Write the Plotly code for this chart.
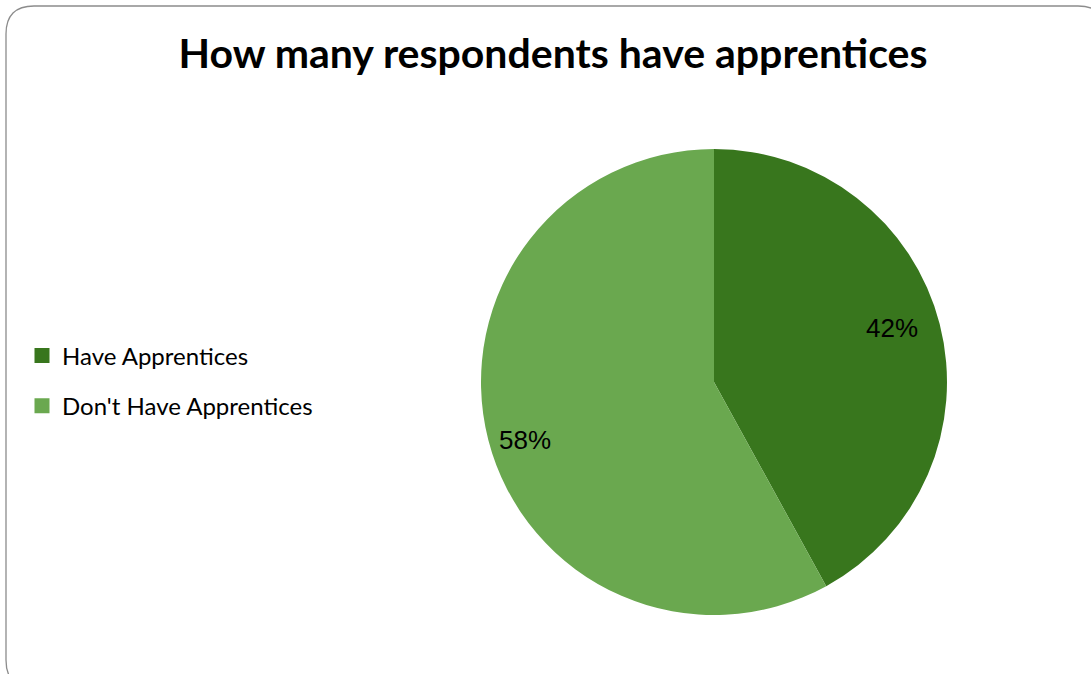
import math
import plotly.graph_objects as go

# Survey result
labels = ["Have Apprentices", "Don't Have Apprentices"]
shares = [42, 58]
colors = ["#38761D", "#6AA84F"]

W, H = 1091, 674
CX, CY, R = 714, 382, 233  # pie centre and radius in pixels

fig = go.Figure()

fig.add_trace(go.Pie(
    labels=labels,
    values=shares,
    sort=False,
    direction="clockwise",
    rotation=0,
    marker=dict(colors=colors, line=dict(width=0)),
    textinfo="none",
    hoverinfo="label+percent",
    showlegend=False,
    domain=dict(x=[(CX - R) / W, (CX + R) / W], y=[1 - (CY + R) / H, 1 - (CY - R) / H]),
))

# Legend entries
for i, (lab, col) in enumerate(zip(labels, colors)):
    fig.add_trace(go.Scatter(
        x=[None], y=[None], mode="markers", name=lab,
        marker=dict(symbol="square", size=15, color=col),
        legendgroup=f"g{i}", showlegend=True,
    ))

# Percentage labels placed near each slice's bisector
total = sum(shares)
start = 0.0
label_turn = math.radians(-2.5)
for v, f in zip(shares, [0.80, 0.85]):
    frac = v / total
    mid = (start + frac / 2) * 2 * math.pi + label_turn
    start += frac
    px = CX + f * R * math.sin(mid)
    py = CY - f * R * math.cos(mid)
    fig.add_annotation(
        x=px / W, y=1 - py / H, xref="paper", yref="paper",
        xanchor="center", yanchor="middle",
        text=f"{round(100 * v / total)}%", showarrow=False,
        font=dict(family="Liberation Sans, Arial", size=26, color="#000000"),
    )

# Rounded outer frame
x0, y0, x1, y1, rad = 6, 6, 1106, 688, 28
def P(x, y):
    return f"{x / W},{1 - y / H}"
path = (f"M {P(x0, y1 - rad)} L {P(x0, y0 + rad)} Q {P(x0, y0)} {P(x0 + rad, y0)} "
        f"L {P(x1 - rad, y0)} Q {P(x1, y0)} {P(x1, y0 + rad)} "
        f"L {P(x1, y1 - rad)} Q {P(x1, y1)} {P(x1 - rad, y1)} "
        f"L {P(x0 + rad, y1)} Q {P(x0, y1)} {P(x0, y1 - rad)} Z")
fig.add_shape(type="path", path=path, xref="paper", yref="paper",
              line=dict(color="#8C8C8C", width=1.3), layer="below")

fig.update_layout(
    width=W, height=H,
    margin=dict(l=0, r=0, t=0, b=0),
    paper_bgcolor="white", plot_bgcolor="white",
    title=dict(
        text="<b>How many respondents have apprentices</b>",
        x=553 / W, xanchor="center", y=1 - 54 / H, yanchor="middle",
        font=dict(family="Lato", size=41, color="#000000"),
    ),
    xaxis=dict(visible=False), yaxis=dict(visible=False),
    legend=dict(
        x=22 / W, xanchor="left", y=1 - 381 / H, yanchor="middle",
        font=dict(family="Lato", size=24, color="#000000"),
        tracegroupgap=16, traceorder="grouped",
        bgcolor="rgba(0,0,0,0)",
    ),
)

fig.write_html("out.html")
